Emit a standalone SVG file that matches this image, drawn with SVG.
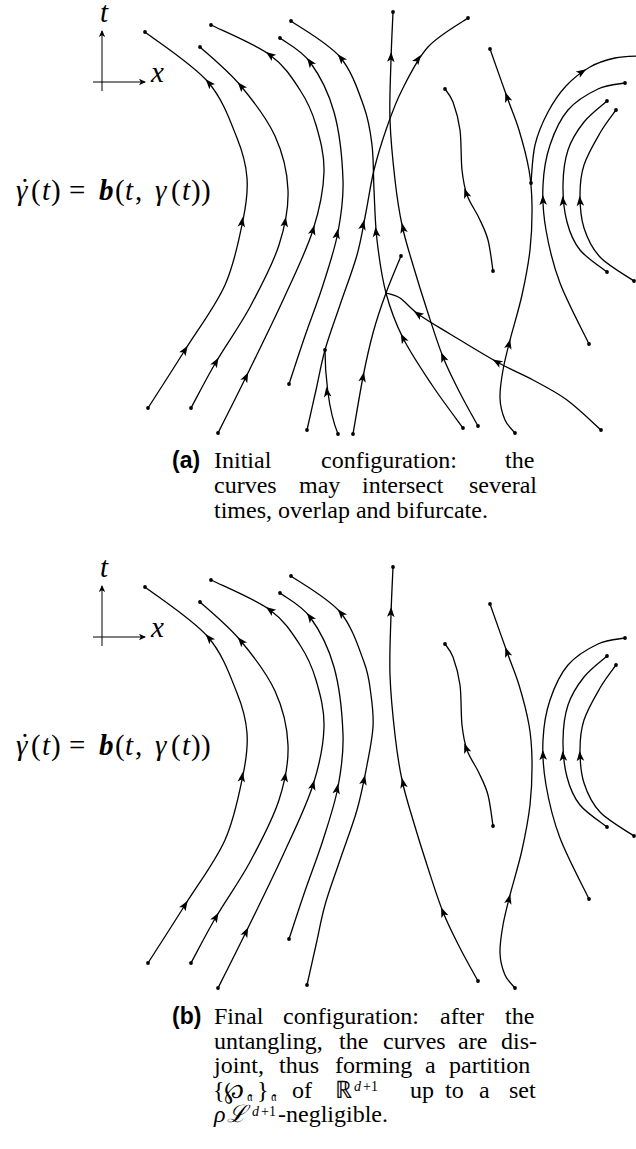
<svg xmlns="http://www.w3.org/2000/svg" xmlns:xlink="http://www.w3.org/1999/xlink" width="636" height="1149" viewBox="0 0 636 1149">
<style>
.c{fill:none;stroke:#000;stroke-width:1.3;stroke-linecap:round;stroke-linejoin:round}
.ax{fill:none;stroke:#000;stroke-width:1}
.d{fill:#000}
.ah{fill:#000}
.m{font-family:"Liberation Serif",serif;font-size:29px;fill:#000}
.i{font-style:italic}
.cap{font-family:"Liberation Serif",serif;font-size:24px;fill:#000}
.lab{font-family:"Liberation Sans",sans-serif;font-weight:bold;font-size:23px;fill:#000}
.sup{font-size:14px}
.frak{font-family:"DejaVu Serif","DejaVu Sans","Noto Sans",serif}
</style>
<defs>
<path id="ah" class="ah" d="M5,0 L-5,-3.8 L-2.6,0 L-5,3.8 Z"/>
<marker id="axm" markerWidth="10" markerHeight="8" refX="6" refY="4" orient="auto" markerUnits="userSpaceOnUse">
<path d="M7,4 L0,0.8 L1.8,4 L0,7.2 Z" fill="#000"/>
</marker>
<circle id="dt" r="1.9" class="d"/>
<g id="axes">
<line class="ax" x1="102" y1="91" x2="102" y2="31" marker-end="url(#axm)"/>
<line class="ax" x1="93" y1="82" x2="145" y2="82" marker-end="url(#axm)"/>
<text class="m i" x="100" y="22">t</text>
<text class="m i" x="151" y="82">x</text>
<text class="m" x="20" y="199">˙</text>
<text class="m" y="200"><tspan class="i" x="16">γ</tspan><tspan x="31">(</tspan><tspan class="i" x="42">t</tspan><tspan x="51">)</tspan><tspan x="69">=</tspan><tspan x="99" font-weight="bold" font-style="italic">b</tspan><tspan x="115">(</tspan><tspan class="i" x="125">t</tspan><tspan x="135">,</tspan><tspan class="i" x="155">γ</tspan><tspan x="171">(</tspan><tspan class="i" x="182">t</tspan><tspan x="191">)</tspan><tspan x="201">)</tspan></text>
</g>
<g id="common">
<g id="c1">
<path class="c" d="M148,408 C154.2,398.3 172.2,370.5 185,350 C197.8,329.5 215.3,306.7 225,285 C234.7,263.3 239.3,237.8 243,220 C246.7,202.2 248,191.7 247,178 C246,164.3 243.5,154 237,138 C230.5,122 223.3,99.7 208,82 C192.7,64.3 155.5,40.3 145,32"/>
<use xlink:href="#ah" transform="translate(185,350) rotate(-57.5)"/>
<use xlink:href="#ah" transform="translate(242,222) rotate(-82)"/>
<use xlink:href="#ah" transform="translate(209,83) rotate(-131)"/>
<use xlink:href="#dt" x="148" y="408"/><use xlink:href="#dt" x="145" y="32"/>
</g>
<g id="c2">
<path class="c" d="M191,408 C195.2,400.3 206.2,378.8 216,362 C225.8,345.2 239.5,326.5 250,307 C260.5,287.5 272.7,264.5 279,245 C285.3,225.5 288.7,208.2 288,190 C287.3,171.8 283,153.5 275,136 C267,118.5 252.5,99.8 240,85 C227.5,70.2 206.7,53.3 200,47"/>
<use xlink:href="#ah" transform="translate(216,362) rotate(-60)"/>
<use xlink:href="#ah" transform="translate(285,222) rotate(-81)"/>
<use xlink:href="#ah" transform="translate(241,86) rotate(-130)"/>
<use xlink:href="#dt" x="191" y="408"/><use xlink:href="#dt" x="200" y="47"/>
</g>
<g id="c3">
<path class="c" d="M218,433 C222.7,423.7 235,399.5 246,377 C257,354.5 272.8,322.5 284,298 C295.2,273.5 306.3,251 313,230 C319.7,209 323.5,189.5 324,172 C324.5,154.5 320,138.7 316,125 C312,111.3 307.7,101.7 300,90 C292.3,78.3 284.8,65.8 270,55 C255.2,44.2 220.8,30 211,25"/>
<use xlink:href="#ah" transform="translate(246,377) rotate(-64)"/>
<use xlink:href="#ah" transform="translate(313,230) rotate(-75)"/>
<use xlink:href="#ah" transform="translate(270,55) rotate(-144)"/>
<use xlink:href="#dt" x="218" y="433"/><use xlink:href="#dt" x="211" y="25"/>
</g>
<g id="c4">
<path class="c" d="M289,384 C291.7,376 299.3,352.5 305,336 C310.7,319.5 317.5,302.3 323,285 C328.5,267.7 334.7,249.5 338,232 C341.3,214.5 343.7,200 343,180 C342.3,160 339.5,131.7 334,112 C328.5,92.3 319,74.3 310,62 C301,49.7 285,42 280,38"/>
<use xlink:href="#ah" transform="translate(337,234) rotate(-80)"/>
<use xlink:href="#ah" transform="translate(310,62) rotate(-126)"/>
<use xlink:href="#dt" x="289" y="384"/><use xlink:href="#dt" x="280" y="38"/>
</g>
<g id="v">
<path class="c" d="M478,426 C475,420.5 465.8,404.5 460,393 C454.2,381.5 448.5,370.8 443,357 C437.5,343.2 432,325.3 427,310 C422,294.7 417.2,279.2 413,265 C408.8,250.8 405,239.2 402,225 C399,210.8 397,197.5 395,180 C393,162.5 390.7,140 390,120 C389.3,100 390.5,78 391,60 C391.5,42 392.7,20 393,12"/>
<use xlink:href="#ah" transform="translate(443,357) rotate(-112)"/>
<use xlink:href="#ah" transform="translate(403,228) rotate(-102)"/>
<use xlink:href="#ah" transform="translate(391,57) rotate(-88)"/>
<use xlink:href="#dt" x="478" y="426"/><use xlink:href="#dt" x="393" y="12"/>
</g>
<g id="e">
<path class="c" d="M493,271 C492.2,265.8 490.3,248.8 488,240 C485.7,231.2 482.5,225.5 479,218 C475.5,210.5 469.8,203 467,195 C464.2,187 463.2,180.8 462,170 C460.8,159.2 461.5,141.3 460,130 C458.5,118.7 455.5,108.8 453,102 C450.5,95.2 446.3,91.2 445,89"/>
<use xlink:href="#ah" transform="translate(466,193) rotate(-110)"/>
<use xlink:href="#dt" x="493" y="271"/><use xlink:href="#dt" x="445" y="89"/>
</g>
<g id="f">
<path class="c" d="M515,433 C513.3,430.8 507.5,425.8 505,420 C502.5,414.2 500.3,406.3 500,398 C499.7,389.7 501.3,379.7 503,370 C504.7,360.3 506.8,352.5 510,340 C513.2,327.5 518.7,310 522,295 C525.3,280 528.3,265 530,250 C531.7,235 532.2,218.3 532,205 C531.8,191.7 531.2,182.5 529,170 C526.8,157.5 522.7,142.2 519,130 C515.3,117.8 511.8,110.5 507,97 C502.2,83.5 492.8,57 490,49"/>
<use xlink:href="#ah" transform="translate(509,344) rotate(-76)"/>
<use xlink:href="#ah" transform="translate(507,97) rotate(-110)"/>
<use xlink:href="#dt" x="515" y="433"/><use xlink:href="#dt" x="490" y="49"/>
</g>
<g id="h1">
<path class="c" d="M589,344 C584.2,333.8 567.2,302 560,283 C552.8,264 548.8,246.3 546,230 C543.2,213.7 542.3,199.2 543,185 C543.7,170.8 545.8,157.5 550,145 C554.2,132.5 560,119.3 568,110 C576,100.7 588.5,93.5 598,89 C607.5,84.5 620.5,84 625,83"/>
<use xlink:href="#ah" transform="translate(543,200) rotate(-92)"/>
<use xlink:href="#dt" x="589" y="344"/><use xlink:href="#dt" x="625" y="83"/>
</g>
<g id="h2">
<path class="c" d="M607,272 C602.5,268.3 586.7,258.3 580,250 C573.3,241.7 569.8,232.8 567,222 C564.2,211.2 562.8,197 563,185 C563.2,173 564.5,160.5 568,150 C571.5,139.5 577.5,130.2 584,122 C590.5,113.8 603.2,104.5 607,101"/>
<use xlink:href="#ah" transform="translate(563,201) rotate(-95)"/>
<use xlink:href="#dt" x="607" y="272"/><use xlink:href="#dt" x="607" y="101"/>
</g>
<g id="h3">
<path class="c" d="M634,281 C628.3,277 608.3,265.8 600,257 C591.7,248.2 587.3,238.3 584,228 C580.7,217.7 580,205.5 580,195 C580,184.5 580.7,175.3 584,165 C587.3,154.7 594.7,142.2 600,133 C605.3,123.8 613.3,113.8 616,110"/>
<use xlink:href="#ah" transform="translate(580,201) rotate(-95)"/>
<use xlink:href="#dt" x="634" y="281"/><use xlink:href="#dt" x="616" y="110"/>
</g>
</g>
</defs>
<rect width="636" height="1149" fill="#fff"/>

<g id="panel-a">
<use id="axes-a" xlink:href="#axes"/>
<use id="curves-a-common" xlink:href="#common"/>
<g id="a-c5">
<path class="c" d="M463,428 C457.8,420.8 442,400 432,385 C422,370 410.7,353.3 403,338 C395.3,322.7 390.3,309.3 386,293 C381.7,276.7 379,257.2 377,240 C375,222.8 374.8,205.8 374,190 C373.2,174.2 373.7,158.8 372,145 C370.3,131.2 369.3,121.7 364,107 C358.7,92.3 352.2,71.3 340,57 C327.8,42.7 299.2,27 291,21"/>
<use xlink:href="#ah" transform="translate(403,338) rotate(-117)"/>
<use xlink:href="#ah" transform="translate(376,232) rotate(-96)"/>
<use xlink:href="#ah" transform="translate(341,58) rotate(-130)"/>
<use xlink:href="#dt" x="463" y="428"/><use xlink:href="#dt" x="291" y="21"/>
</g>
<g id="a-b">
<path class="c" d="M307,430 C308.5,423.3 313,403.3 316,390 C319,376.7 321,364.2 325,350 C329,335.8 334.7,320.8 340,305 C345.3,289.2 352.7,270.5 357,255 C361.3,239.5 363.2,226.2 366,212 C368.8,197.8 370.5,184.2 374,170 C377.5,155.8 382.3,140.3 387,127 C391.7,113.7 395.2,103.3 402,90 C408.8,76.7 417,59 428,47 C439,35 461.3,22.8 468,18"/>
<path class="c" d="M325,350 C325,372 328,410 338,434"/>
<use xlink:href="#ah" transform="translate(363,225) rotate(-78)"/>
<use xlink:href="#ah" transform="translate(418,59) rotate(-55)"/>
<use xlink:href="#ah" transform="translate(327,392) rotate(-98)"/>
<use xlink:href="#dt" x="307" y="430"/><use xlink:href="#dt" x="468" y="18"/>
<use xlink:href="#dt" x="325" y="350"/><use xlink:href="#dt" x="338" y="434"/>
</g>
<g id="a-d">
<path class="c" d="M353,434 C354.7,424.5 359.7,393.8 363,377 C366.3,360.2 369.2,347 373,333 C376.8,319 381.3,305.8 386,293 C390.7,280.2 398.5,262.2 401,256"/>
<use xlink:href="#ah" transform="translate(363,377) rotate(-79)"/>
<use xlink:href="#dt" x="353" y="434"/><use xlink:href="#dt" x="401" y="256"/>
</g>
<g id="a-s">
<path class="c" d="M601,430 C595.3,425 578.3,408.3 567,400 C555.7,391.7 544.7,386.3 533,380 C521.3,373.7 510.8,369.7 497,362 C483.2,354.3 463.2,342 450,334 C436.8,326 426.3,320 418,314 C409.7,308 405.3,301.5 400,298 C394.7,294.5 388.3,293.8 386,293"/>
<use xlink:href="#ah" transform="translate(497,362) rotate(-150)"/>
<use xlink:href="#ah" transform="translate(418,314) rotate(-145)"/>
<use xlink:href="#dt" x="601" y="430"/>
</g>
<g id="a-g">
<path class="c" d="M531,183 C531.7,176.7 532.2,156.8 535,145 C537.8,133.2 542.8,121.8 548,112 C553.2,102.2 559,93.5 566,86 C573,78.5 581.8,71.7 590,67 C598.2,62.3 606.7,59.8 615,58 C623.3,56.2 635.8,56.3 640,56"/>
<use xlink:href="#ah" transform="translate(582,72) rotate(-32)"/>
<use xlink:href="#dt" x="531" y="183"/>
</g>
</g>

<g id="panel-b" transform="translate(0,555)">
<use id="axes-b" xlink:href="#axes"/>
<use id="curves-b-common" xlink:href="#common"/>
<g id="b-c5">
<path class="c" d="M307,430 C308.5,423.3 313,403.3 316,390 C319,376.7 321,364.2 325,350 C329,335.8 334.7,320.8 340,305 C345.3,289.2 352.5,270.8 357,255 C361.5,239.2 364.3,223.8 367,210 C369.7,196.2 372.3,183.7 373,172 C373.7,160.3 372.5,150.8 371,140 C369.5,129.2 369.2,120.8 364,107 C358.8,93.2 352.2,71.3 340,57 C327.8,42.7 299.2,27 291,21"/>
<use xlink:href="#ah" transform="translate(364,225) rotate(-78)"/>
<use xlink:href="#ah" transform="translate(341,58) rotate(-130)"/>
<use xlink:href="#dt" x="307" y="430"/><use xlink:href="#dt" x="291" y="21"/>
</g>
</g>

<g id="caption-a">
<text class="lab" x="172" y="468">(a)</text>
<text class="cap" y="468"><tspan x="214">Initial</tspan><tspan x="321">configuration:</tspan><tspan x="505">the</tspan></text>
<text class="cap" y="493"><tspan x="214">curves</tspan><tspan x="299">may</tspan><tspan x="362">intersect</tspan><tspan x="469">several</tspan></text>
<text class="cap" y="518"><tspan x="214">times, overlap and bifurcate.</tspan></text>
</g>

<g id="caption-b">
<text class="lab" x="172" y="1024">(b)</text>
<text class="cap" y="1024"><tspan x="214">Final</tspan><tspan x="283">configuration:</tspan><tspan x="440">after</tspan><tspan x="505">the</tspan></text>
<text class="cap" y="1048.5"><tspan x="214">untangling,</tspan><tspan x="339">the</tspan><tspan x="383">curves</tspan><tspan x="458">are</tspan><tspan x="501">dis-</tspan></text>
<text class="cap" y="1073"><tspan x="214">joint,</tspan><tspan x="279">thus</tspan><tspan x="335">forming</tspan><tspan x="425">a</tspan><tspan x="449">partition</tspan></text>
<text class="cap" y="1097.5"><tspan x="213">{</tspan><tspan x="224">℘</tspan><tspan x="247" dy="3" class="frak" font-size="13">𝔞</tspan><tspan x="257" dy="-3">}</tspan><tspan x="271" dy="3" class="frak" font-size="13">𝔞</tspan><tspan x="292" dy="-3">of</tspan><tspan x="335">ℝ</tspan><tspan x="354" dy="-7" class="sup i">d</tspan><tspan x="363" class="sup">+1</tspan><tspan x="410" dy="7">up</tspan><tspan x="445">to</tspan><tspan x="479">a</tspan><tspan x="509">set</tspan></text>
<text class="cap" y="1122"><tspan x="214" class="i">ρ</tspan><tspan x="227" class="i">ℒ</tspan><tspan x="252" dy="-6" class="sup i">d</tspan><tspan x="261" class="sup">+1</tspan><tspan x="278" dy="6">-negligible.</tspan></text>
</g>
</svg>
